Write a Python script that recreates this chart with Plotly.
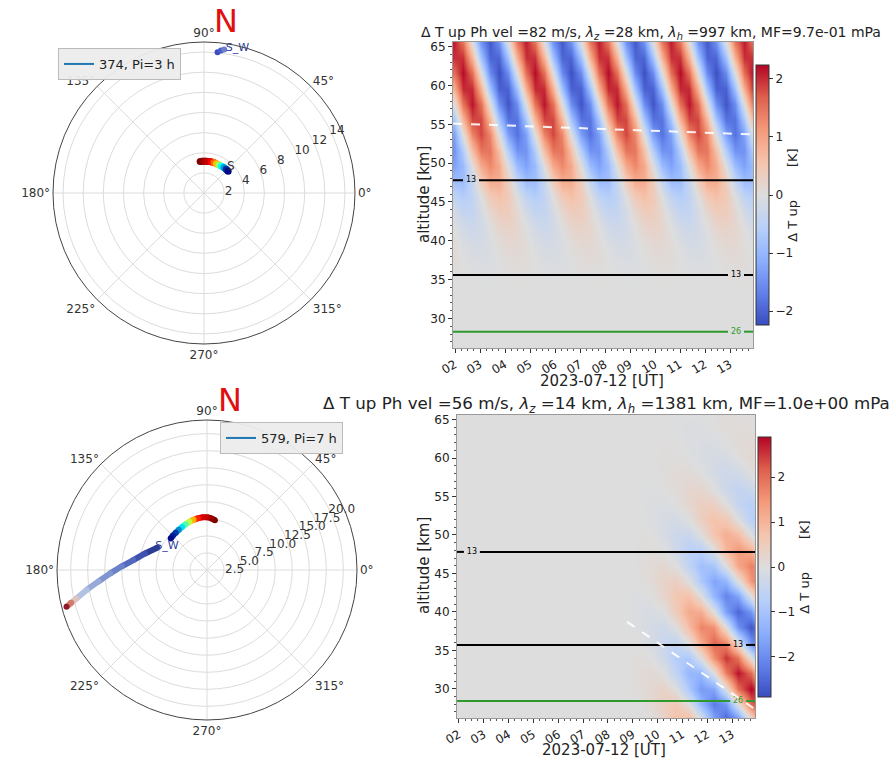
import plotly.graph_objects as go
from plotly.colors import sample_colorscale

W, H = 894, 758
def fx(p): return p / W
def fy(p): return 1 - p / H

FONT = "DejaVu Sans"

# ---------------- data: polar panels ----------------
angle_ticks = [0, 45, 90, 135, 180, 225, 270, 315]
angle_labels = ["0°", "45°", "90°", "135°", "180°", "225°", "270°", "315°"]
top_r_ticks = [2, 4, 6, 8, 10, 12, 14]
top_r_labels = ["2", "4", "6", "8", "10", "12", "14"]
bot_r_ticks = [2.5, 5, 7.5, 10, 12.5, 15, 17.5, 20]
bot_r_labels = ["2.5", "5.0", "7.5", "10.0", "12.5", "15.0", "17.5", "20.0"]

top_arc_theta = [97, 92, 87, 82, 77, 72, 67, 62, 57, 52, 47, 42]
top_arc_r = [3.15, 3.15, 3.15, 3.17, 3.18, 3.18, 3.16, 3.16, 3.18, 3.21, 3.23, 3.23]
top_arc_c = [1.0, 0.97, 0.92, 0.88, 0.8, 0.72, 0.65, 0.52, 0.4, 0.3, 0.15, 0.03]

top_sw_theta = [84.5, 83.2, 82.0]
top_sw_r = [14.05, 14.25, 14.4]

bot_arc_theta = [81, 85, 90, 95, 100, 105, 110, 115, 120, 125, 130, 135, 139]
bot_arc_r = [7.4, 7.6, 7.75, 7.75, 7.7, 7.62, 7.52, 7.42, 7.3, 7.2, 7.14, 7.1, 7.05]
bot_arc_c = [1.0, 0.96, 0.9, 0.85, 0.77, 0.66, 0.55, 0.46, 0.37, 0.28, 0.18, 0.1, 0.03]

bot_ray_theta = [156, 165, 172.3, 177.5, 182, 186, 189.4, 192.3, 193.6, 194.7]
bot_ray_r = [8.0, 9.4, 10.9, 12.5, 14.2, 16.0, 17.9, 19.6, 20.5, 21.3]
bot_ray_col = ["#2c3b94", "#3f52b0", "#5369bf", "#6a80c8", "#8095cf",
               "#97aad8", "#b3c2e2", "#dcc4c0", "#d47a6a", "#8e1a2c"]

# ---------------- data: heatmaps ----------------
hour_ticks = [2, 3, 4, 5, 6, 7, 8, 9, 10, 11, 12, 13]
hour_labels = ["02", "03", "04", "05", "06", "07", "08", "09", "10", "11", "12", "13"]

top_t = [1.94, 2.30, 2.67, 3.03, 3.39, 3.75, 4.12, 4.48, 4.84, 5.20, 5.57, 5.93,
         6.29, 6.65, 7.02, 7.38, 7.74, 8.10, 8.47, 8.83, 9.19, 9.55, 9.92, 10.28,
         10.64, 11.00, 11.37, 11.73, 12.09, 12.45, 12.82, 13.18, 13.54, 13.90]
top_alt = [25.6, 31.6, 33.6, 35.6, 37.6, 39.6, 41.6, 43.6, 45.6, 47.6, 49.6,
           51.6, 53.6, 55.6, 57.6, 59.6, 61.6, 63.6, 65.6]
top_dT = [
    [0, 0, 0, 0, 0, 0, 0, 0, 0, 0, 0, 0, 0, 0, 0, 0, 0, 0, 0, 0, 0, 0, 0, 0, 0, 0, 0, 0, 0, 0, 0, 0, 0, 0],
    [0, 0, 0, 0, 0, 0, 0, 0, 0, 0, 0, 0, 0, 0, 0, 0, 0, 0, 0, 0, 0, 0, 0, 0, 0, 0, 0, 0, 0, 0, 0, 0, 0, 0],
    [0, 0, 0, 0, 0, 0, 0, 0, 0, 0, 0, 0, 0, 0, 0, 0, 0, 0, 0, 0, 0, 0, 0, 0, 0, 0, 0, 0, 0, 0, 0, 0, 0, 0],
    [0.02, 0.01, -0.01, -0.02, -0.02, -0.01, 0.01, 0.02, 0.02, 0.01, -0.01, -0.02, -0.02, -0.01, 0.01, 0.02,
     0.02, 0.01, -0.01, -0.02, -0.02, -0.01, 0.01, 0.02, 0.02, 0.01, -0.01, -0.02, -0.02, -0.01, 0.01, 0.02, 0.02, 0.01],
    [0.06, 0, -0.06, -0.08, -0.06, 0, 0.06, 0.08, 0.06, 0, -0.06, -0.08, -0.06, 0, 0.06, 0.08,
     0.06, 0, -0.06, -0.08, -0.06, 0, 0.06, 0.08, 0.06, 0, -0.06, -0.08, -0.06, 0, 0.06, 0.08, 0.06, 0],
    [0.06, -0.06, -0.14, -0.14, -0.06, 0.06, 0.14, 0.14, 0.06, -0.06, -0.14, -0.14, -0.06, 0.06, 0.14, 0.14,
     0.06, -0.06, -0.14, -0.14, -0.06, 0.06, 0.14, 0.14, 0.06, -0.06, -0.14, -0.14, -0.06, 0.06, 0.14, 0.14, 0.06, -0.06],
    [0, -0.18, -0.25, -0.18, 0, 0.18, 0.25, 0.18, 0, -0.18, -0.25, -0.18, 0, 0.18, 0.25, 0.18,
     0, -0.18, -0.25, -0.18, 0, 0.18, 0.25, 0.18, 0, -0.18, -0.25, -0.18, 0, 0.18, 0.25, 0.18, 0, -0.18],
    [-0.15, -0.37, -0.37, -0.15, 0.15, 0.37, 0.37, 0.15, -0.15, -0.37, -0.37, -0.15, 0.15, 0.37, 0.37, 0.15,
     -0.15, -0.37, -0.37, -0.15, 0.15, 0.37, 0.37, 0.15, -0.15, -0.37, -0.37, -0.15, 0.15, 0.37, 0.37, 0.15, -0.15, -0.37],
    [-0.43, -0.6, -0.43, 0, 0.43, 0.6, 0.43, 0, -0.43, -0.6, -0.43, 0, 0.43, 0.6, 0.43, 0,
     -0.43, -0.6, -0.43, 0, 0.43, 0.6, 0.43, 0, -0.43, -0.6, -0.43, 0, 0.43, 0.6, 0.43, 0, -0.43, -0.6],
    [-0.87, -0.87, -0.36, 0.36, 0.87, 0.87, 0.36, -0.36, -0.87, -0.87, -0.36, 0.36, 0.87, 0.87, 0.36, -0.36,
     -0.87, -0.87, -0.36, 0.36, 0.87, 0.87, 0.36, -0.36, -0.87, -0.87, -0.36, 0.36, 0.87, 0.87, 0.36, -0.36, -0.87, -0.87],
    [-1.3, -0.92, 0, 0.92, 1.3, 0.92, 0, -0.92, -1.3, -0.92, 0, 0.92, 1.3, 0.92, 0, -0.92,
     -1.3, -0.92, 0, 0.92, 1.3, 0.92, 0, -0.92, -1.3, -0.92, 0, 0.92, 1.3, 0.92, 0, -0.92, -1.3, -0.92],
    [-1.47, -0.61, 0.61, 1.47, 1.47, 0.61, -0.61, -1.47, -1.47, -0.61, 0.61, 1.47, 1.47, 0.61, -0.61, -1.47,
     -1.47, -0.61, 0.61, 1.47, 1.47, 0.61, -0.61, -1.47, -1.47, -0.61, 0.61, 1.47, 1.47, 0.61, -0.61, -1.47, -1.47, -0.61],
    [-1.31, 0, 1.31, 1.85, 1.31, 0, -1.31, -1.85, -1.31, 0, 1.31, 1.85, 1.31, 0, -1.31, -1.85,
     -1.31, 0, 1.31, 1.85, 1.31, 0, -1.31, -1.85, -1.31, 0, 1.31, 1.85, 1.31, 0, -1.31, -1.85, -1.31, 0],
    [-0.76, 0.76, 1.84, 1.84, 0.76, -0.76, -1.84, -1.84, -0.76, 0.76, 1.84, 1.84, 0.76, -0.76, -1.84, -1.84,
     -0.76, 0.76, 1.84, 1.84, 0.76, -0.76, -1.84, -1.84, -0.76, 0.76, 1.84, 1.84, 0.76, -0.76, -1.84, -1.84, -0.76, 0.76],
    [0, 1.53, 2.15, 1.53, 0, -1.53, -2.15, -1.53, 0, 1.53, 2.15, 1.53, 0, -1.53, -2.15, -1.53,
     0, 1.53, 2.15, 1.53, 0, -1.53, -2.15, -1.53, 0, 1.53, 2.15, 1.53, 0, -1.53, -2.15, -1.53, 0, 1.53],
    [0.84, 2.02, 2.02, 0.84, -0.84, -2.02, -2.02, -0.84, 0.84, 2.02, 2.02, 0.84, -0.84, -2.02, -2.02, -0.84,
     0.84, 2.02, 2.02, 0.84, -0.84, -2.02, -2.02, -0.84, 0.84, 2.02, 2.02, 0.84, -0.84, -2.02, -2.02, -0.84, 0.84, 2.02],
    [1.56, 2.2, 1.56, 0, -1.56, -2.2, -1.56, 0, 1.56, 2.2, 1.56, 0, -1.56, -2.2, -1.56, 0,
     1.56, 2.2, 1.56, 0, -1.56, -2.2, -1.56, 0, 1.56, 2.2, 1.56, 0, -1.56, -2.2, -1.56, 0, 1.56, 2.2],
    [1.98, 1.98, 0.82, -0.82, -1.98, -1.98, -0.82, 0.82, 1.98, 1.98, 0.82, -0.82, -1.98, -1.98, -0.82, 0.82,
     1.98, 1.98, 0.82, -0.82, -1.98, -1.98, -0.82, 0.82, 1.98, 1.98, 0.82, -0.82, -1.98, -1.98, -0.82, 0.82, 1.98, 1.98],
    [2.1, 1.49, 0, -1.49, -2.1, -1.49, 0, 1.49, 2.1, 1.49, 0, -1.49, -2.1, -1.49, 0, 1.49,
     2.1, 1.49, 0, -1.49, -2.1, -1.49, 0, 1.49, 2.1, 1.49, 0, -1.49, -2.1, -1.49, 0, 1.49, 2.1, 1.49],
]

bot_t = [1.92, 8.75, 9.25, 9.75, 10.25, 10.75, 11.25, 11.75, 12.25, 12.75, 13.25, 13.75, 14.25]
bot_alt = [26, 28, 30, 32, 34, 36, 38, 40, 42, 44, 46, 48, 50, 52, 54, 56, 58, 60, 62, 64, 66]
bot_dT = [
    [0, 0, -0.06, 0, 0.31, 0.81, 0.93, 0, -1.61, -2.61, -2.0, 0, 2.06],
    [0, 0, 0, 0.14, 0.44, 0.58, 0, -1.28, -2.26, -1.85, 0, 2.06, 2.9],
    [0, 0, 0.06, 0.2, 0.31, 0, -0.93, -1.8, -1.61, 0, 2.0, 2.9, 2.06],
    [0, 0, 0.09, 0.14, 0, -0.57, -1.29, -1.26, 0, 1.83, 2.79, 2.04, 0],
    [0, 0, 0.06, 0, -0.3, -0.79, -0.9, 0, 1.56, 2.53, 1.94, 0, -2.0],
    [0, 0, 0, -0.13, -0.41, -0.54, 0, 1.19, 2.1, 1.72, 0, -1.91, -2.7],
    [0, 0, -0.05, -0.19, -0.29, 0, 0.88, 1.72, 1.54, 0, -1.91, -2.75, -1.96],
    [0, 0, -0.08, -0.13, 0, 0.52, 1.19, 1.16, 0, -1.69, -2.55, -1.87, 0],
    [0, 0, -0.06, 0, 0.25, 0.67, 0.76, 0, -1.32, -2.14, -1.64, 0, 1.69],
    [0, 0, 0, 0.11, 0.32, 0.42, 0, -0.92, -1.63, -1.33, 0, 1.49, 2.09],
    [0, 0, 0.03, 0.12, 0.19, 0, -0.57, -1.1, -0.98, 0, 1.22, 1.77, 1.25],
    [0, 0, 0.04, 0.08, 0, -0.3, -0.68, -0.66, 0, 0.96, 1.46, 1.07, 0],
    [0, 0, 0.02, 0, -0.13, -0.35, -0.4, 0, 0.69, 1.12, 0.86, 0, -0.88],
    [0, 0, 0, -0.04, -0.15, -0.19, 0, 0.43, 0.75, 0.61, 0, -0.68, -0.96],
    [0, 0, -0.01, -0.05, -0.07, 0, 0.22, 0.43, 0.39, 0, -0.49, -0.71, -0.5],
    [0, 0, -0.01, -0.02, 0, 0.1, 0.23, 0.23, 0, -0.34, -0.5, -0.37, 0],
    [0, 0, -0.01, 0, 0.04, 0.1, 0.11, 0, -0.2, -0.32, -0.25, 0, 0.26],
    [0, 0, 0, 0.01, 0.04, 0.05, 0, -0.1, -0.18, -0.15, 0, 0.16, 0.23],
    [0, 0, 0, 0.01, 0.02, 0, -0.05, -0.09, -0.08, 0, 0.1, 0.15, 0.1],
    [0, 0, 0, 0, 0, -0.02, -0.04, -0.04, 0, 0.06, 0.08, 0.06, 0],
    [0, 0, 0, 0, -0.01, -0.02, -0.02, 0, 0.03, 0.05, 0.04, 0, -0.04],
]

# level lines: altitude, label, label time
top_levels = [47.8, 35.6, 28.3]
top_level_text = ["13", "13", "26"]
top_level_label_t = [2.64, 13.24, 13.24]
bot_levels = [47.8, 35.7, 28.4]
bot_level_text = ["13", "13", "26"]
bot_level_label_t = [2.52, 13.24, 13.24]
level_colors = ["black", "black", "#2e9a2e"]

top_dash_t = [1.92, 13.92]
top_dash_alt = [55.1, 53.7]
bot_dash_t = [8.77, 13.85]
bot_dash_alt = [38.7, 27.5]

T_RANGE = [1.92, 13.92]
ALT_RANGE = [26.2, 65.6]

coolwarm = [
    [0.0, "rgb(58,76,192)"], [0.125, "rgb(98,130,234)"], [0.25, "rgb(141,176,254)"],
    [0.375, "rgb(184,208,249)"], [0.5, "rgb(221,221,221)"], [0.625, "rgb(245,196,173)"],
    [0.75, "rgb(244,154,123)"], [0.875, "rgb(222,96,77)"], [1.0, "rgb(180,4,38)"],
]

fig = go.Figure()

# ---------------- polar traces ----------------
def gradient_path(theta, r, cvals, width, subplot):
    cols = sample_colorscale("Jet", cvals)
    for i in range(len(theta) - 1):
        fig.add_trace(go.Scatterpolar(
            theta=theta[i:i + 2], r=r[i:i + 2], mode="lines",
            line=dict(color=cols[i], width=width), subplot=subplot,
            showlegend=False, hoverinfo="skip"))
    fig.add_trace(go.Scatterpolar(
        theta=theta, r=r, mode="markers",
        marker=dict(size=width, color=cols, line=dict(width=0)),
        subplot=subplot, showlegend=False, hoverinfo="skip"))

gradient_path(top_arc_theta, top_arc_r, top_arc_c, 7, "polar")
gradient_path(bot_arc_theta, bot_arc_r, bot_arc_c, 6, "polar2")

for i in range(len(bot_ray_theta) - 1):
    fig.add_trace(go.Scatterpolar(
        theta=bot_ray_theta[i:i + 2], r=bot_ray_r[i:i + 2], mode="lines",
        line=dict(color=bot_ray_col[i], width=6), subplot="polar2",
        showlegend=False, hoverinfo="skip"))
fig.add_trace(go.Scatterpolar(
    theta=bot_ray_theta, r=bot_ray_r, mode="markers",
    marker=dict(size=6, color=bot_ray_col), subplot="polar2",
    showlegend=False, hoverinfo="skip"))

fig.add_trace(go.Scatterpolar(
    theta=top_sw_theta, r=top_sw_r, mode="markers",
    marker=dict(size=6, color=["#3b4cc0", "#4a5bc8", "#6a7fd0"]), subplot="polar",
    showlegend=False, hoverinfo="skip"))

fig.add_trace(go.Scatterpolar(
    theta=[44, 77], r=[3.7, 14.8], mode="text", text=["S", "S_W"],
    textfont=dict(size=[12, 11], color=["#333", "#3040a0"], family=FONT),
    subplot="polar", showlegend=False, hoverinfo="skip"))
fig.add_trace(go.Scatterpolar(
    theta=[149], r=[6.84], mode="text", text=["S_W"],
    textfont=dict(size=11, color="#3040a0", family=FONT),
    subplot="polar2", showlegend=False, hoverinfo="skip"))

# legend entries
fig.add_trace(go.Scatter(x=[None], y=[None], mode="lines", name="374, Pi=3 h",
                         line=dict(color="#1f77b4", width=2), legend="legend",
                         xaxis="x", yaxis="y"))
fig.add_trace(go.Scatter(x=[None], y=[None], mode="lines", name="579, Pi=7 h",
                         line=dict(color="#1f77b4", width=2), legend="legend2",
                         xaxis="x2", yaxis="y2"))

# ---------------- heatmaps ----------------
def cbar(ycenter, xleft):
    return dict(x=fx(xleft), xanchor="left", xpad=0, ypad=0,
                y=fy(ycenter), yanchor="middle", len=260 / H, lenmode="fraction",
                thickness=13, outlinewidth=1, outlinecolor="#333",
                tickvals=[-2, -1, 0, 1, 2], ticktext=["−2", "−1", "0", "1", "2"],
                ticks="outside", ticklen=4, tickcolor="#333",
                tickfont=dict(size=12, color="#222", family=FONT),
                title=dict(text="Δ T up\u00a0\u00a0\u00a0\u00a0\u00a0\u00a0\u00a0\u00a0[K]",
                           side="right", font=dict(size=13, color="#222", family=FONT)))

fig.add_trace(go.Heatmap(x=top_t, y=top_alt, z=top_dT, colorscale=coolwarm,
                         zmin=-2.24, zmax=2.24, zsmooth="best", xaxis="x", yaxis="y",
                         colorbar=cbar(195, 756), hoverinfo="skip"))
fig.add_trace(go.Heatmap(x=bot_t, y=bot_alt, z=bot_dT, colorscale=coolwarm,
                         zmin=-2.89, zmax=2.89, zsmooth="best", xaxis="x2", yaxis="y2",
                         colorbar=cbar(567, 758), hoverinfo="skip"))

def level_lines(levels, texts, label_t, xa, ya):
    for z, txt, lt, col in zip(levels, texts, label_t, level_colors):
        fig.add_trace(go.Scatter(
            x=[T_RANGE[0], lt - 0.32, None, lt + 0.32, T_RANGE[1]],
            y=[z, z, None, z, z], mode="lines", line=dict(color=col, width=2),
            xaxis=xa, yaxis=ya, showlegend=False, hoverinfo="skip"))
        fig.add_trace(go.Scatter(
            x=[lt], y=[z], mode="text", text=[txt],
            textfont=dict(size=8, color=col, family=FONT),
            xaxis=xa, yaxis=ya, showlegend=False, hoverinfo="skip"))

level_lines(top_levels, top_level_text, top_level_label_t, "x", "y")
level_lines(bot_levels, bot_level_text, bot_level_label_t, "x2", "y2")

fig.add_trace(go.Scatter(x=top_dash_t, y=top_dash_alt, mode="lines",
                         line=dict(color="rgba(255,255,255,0.9)", width=2, dash="dash"),
                         xaxis="x", yaxis="y", showlegend=False, hoverinfo="skip"))
fig.add_trace(go.Scatter(x=bot_dash_t, y=bot_dash_alt, mode="lines",
                         line=dict(color="rgba(255,255,255,0.9)", width=2, dash="dash"),
                         xaxis="x2", yaxis="y2", showlegend=False, hoverinfo="skip"))

# ---------------- layout ----------------
def polar_layout(xd, yd, rmax, rticks, rlabels):
    return dict(
        domain=dict(x=xd, y=yd), bgcolor="white",
        angularaxis=dict(tickmode="array", tickvals=angle_ticks, ticktext=angle_labels,
                         rotation=0, direction="counterclockwise",
                         showline=True, linecolor="#444", linewidth=1,
                         gridcolor="#dcdcdc", ticks="",
                         tickfont=dict(size=12, color="#333", family=FONT)),
        radialaxis=dict(range=[0, rmax], tickmode="array", tickvals=rticks, ticktext=rlabels,
                        showline=False, ticks="", gridcolor="#dcdcdc", angle=30,
                        tickangle=30, tickfont=dict(size=12, color="#333", family=FONT)))

def xax(xd, anchor, fs):
    return dict(domain=xd, anchor=anchor, range=T_RANGE, tickmode="array",
                tickvals=hour_ticks, ticktext=hour_labels, tickangle=-30,
                ticks="outside", ticklen=4, tickcolor="#333", automargin=False,
                minor=dict(tickmode="linear", tick0=0, dtick=0.25, ticks="outside",
                           ticklen=2, tickcolor="#555"),
                showline=True, mirror=True, linecolor="#999", showgrid=False,
                zeroline=False, tickfont=dict(size=fs, color="#222", family=FONT))

def yax(yd, anchor, fs):
    return dict(domain=yd, anchor=anchor, range=ALT_RANGE, tickmode="linear",
                tick0=0, dtick=5, ticks="outside", ticklen=4, tickcolor="#333",
                automargin=False,
                minor=dict(tickmode="linear", tick0=0, dtick=1, ticks="outside",
                           ticklen=2, tickcolor="#555"),
                showline=True, mirror=True, linecolor="#999", showgrid=False,
                zeroline=False, tickfont=dict(size=fs, color="#222", family=FONT))

legend_style = dict(xanchor="left", yanchor="top", bgcolor="rgba(236,236,236,0.95)",
                    bordercolor="#bbbbbb", borderwidth=1,
                    font=dict(size=13, color="#222", family=FONT))

fig.update_layout(
    width=W, height=H, margin=dict(l=0, r=0, t=0, b=0, autoexpand=False),
    paper_bgcolor="white", plot_bgcolor="rgb(221,221,221)",
    font=dict(family=FONT, color="#222"),
    polar=polar_layout([fx(53), fx(355)], [fy(344), fy(42)], 15, top_r_ticks, top_r_labels),
    polar2=polar_layout([fx(57), fx(357)], [fy(720), fy(420)], 22, bot_r_ticks, bot_r_labels),
    xaxis=xax([fx(453), fx(753)], "y", 12),
    yaxis=yax([fy(348), fy(42)], "x", 12),
    xaxis2=xax([fx(457), fx(755)], "y2", 12),
    yaxis2=yax([fy(718), fy(415)], "x2", 12),
    legend=dict(x=fx(58), y=fy(48), **legend_style),
    legend2=dict(x=fx(220), y=fy(422), **legend_style),
    showlegend=True,
)

ann = [
    dict(text="Δ T up Ph vel =82 m/s, <i>λ<sub>z</sub></i> =28 km, <i>λ<sub>h</sub></i> =997 km, MF=9.7e-01 mPa",
         x=fx(651), y=fy(33), size=14),
    dict(text="Δ T up Ph vel =56 m/s, <i>λ<sub>z</sub></i> =14 km, <i>λ<sub>h</sub></i> =1381 km, MF=1.0e+00 mPa",
         x=fx(606), y=fy(404), size=16.7),
    dict(text="2023-07-12 [UT]", x=fx(602), y=fy(381), size=15),
    dict(text="2023-07-12 [UT]", x=fx(604), y=fy(750), size=15),
]
annotations = []
for a in ann:
    annotations.append(dict(text=a["text"], x=a["x"], y=a["y"], xref="paper", yref="paper",
                            xanchor="center", yanchor="middle", showarrow=False,
                            font=dict(size=a["size"], color="#222", family=FONT)))
for yc, fs in [(195, 15), (566, 15)]:
    annotations.append(dict(text="altitude [km]", x=fx(424), y=fy(yc), xref="paper",
                            yref="paper", xanchor="center", yanchor="middle",
                            showarrow=False, textangle=-90,
                            font=dict(size=fs, color="#222", family=FONT)))
for xc, yc in [(226, 21), (230, 400)]:
    annotations.append(dict(text="N", x=fx(xc), y=fy(yc), xref="paper", yref="paper",
                            xanchor="center", yanchor="middle", showarrow=False,
                            font=dict(size=32, color="#e01010", family=FONT)))
fig.update_layout(annotations=annotations)

fig.write_html("out.html", config={"displayModeBar": False},
               post_script="document.body.style.margin='0px';")
